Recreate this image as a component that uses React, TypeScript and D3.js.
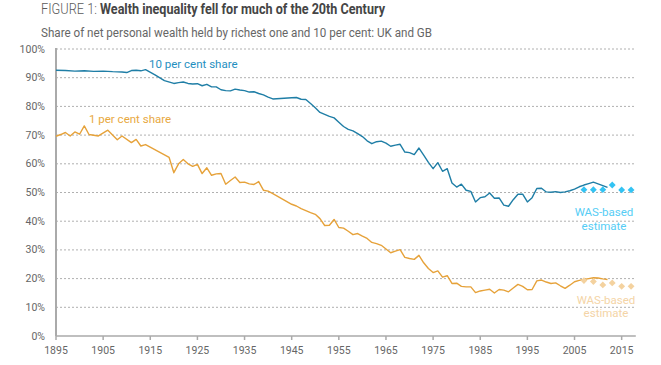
import React from 'react';
import * as d3 from 'd3';

// 10 per cent share (UK / GB)
const topTenYears = [1895, 1897, 1899, 1901, 1903, 1905, 1907, 1909, 1910, 1911, 1912, 1913, 1914, 1916, 1918, 1920,
  1921, 1922, 1923, 1924, 1925, 1926, 1927, 1928, 1929, 1930, 1931, 1932, 1933, 1934, 1935, 1936, 1937, 1938, 1939,
  1940, 1941, 1945, 1946, 1947, 1948, 1949, 1950, 1951, 1952, 1953, 1954, 1955, 1956, 1957, 1958, 1959, 1960, 1961,
  1962, 1963, 1964, 1965, 1966, 1967, 1968, 1969, 1970, 1971, 1972, 1973, 1974, 1975, 1976, 1977, 1978, 1979, 1980,
  1981, 1982, 1983, 1984, 1985, 1986, 1987, 1988, 1989, 1990, 1991, 1992, 1993, 1994, 1995, 1996, 1997, 1998, 1999,
  2000, 2001, 2002, 2003, 2004, 2005, 2006, 2007, 2008, 2009, 2010, 2011, 2012];
const topTenShare = [92.6, 92.5, 92.3, 92.4, 92.2, 92.3, 92.1, 92.0, 91.8, 92.5, 92.6, 92.4, 92.8, 91.0, 89.0, 88.0,
  88.3, 88.5, 88.0, 87.8, 87.9, 87.2, 87.7, 86.8, 86.8, 85.8, 85.5, 85.4, 86.0, 85.7, 85.5, 85.0, 85.1, 84.5, 84.0,
  83.2, 82.6, 83.0, 83.1, 82.5, 82.4, 81.0, 79.5, 77.9, 77.2, 76.5, 76.0, 74.5, 73.0, 72.0, 71.5, 70.5, 69.5, 68.0,
  67.0, 67.7, 67.9, 67.2, 66.1, 66.5, 66.8, 64.1, 63.9, 63.2, 65.5, 63.0, 60.5, 58.3, 60.4, 57.4, 58.3, 53.3, 51.9,
  52.9, 50.8, 50.4, 46.7, 48.2, 48.5, 49.8, 48.0, 48.1, 45.6, 45.2, 47.5, 49.4, 49.4, 46.7, 48.2, 51.4, 51.5, 50.2,
  50.1, 50.3, 50.0, 50.2, 50.6, 51.2, 52.0, 52.6, 53.1, 53.6, 53.0, 52.4, 51.8];

// 1 per cent share
const topOneYears = [1895, 1896, 1897, 1898, 1899, 1900, 1901, 1902, 1904, 1906, 1908, 1909, 1911, 1912, 1913, 1914,
  1919, 1920, 1921, 1922, 1923, 1924, 1925, 1926, 1927, 1928, 1929, 1930, 1931, 1932, 1933, 1934, 1935, 1936, 1937,
  1938, 1939, 1940, 1941, 1945, 1946, 1947, 1948, 1949, 1950, 1951, 1952, 1953, 1954, 1955, 1956, 1957, 1958, 1959,
  1960, 1961, 1962, 1963, 1964, 1965, 1966, 1967, 1968, 1969, 1970, 1971, 1972, 1973, 1974, 1975, 1976, 1977, 1978,
  1979, 1980, 1981, 1982, 1983, 1984, 1985, 1986, 1987, 1988, 1989, 1990, 1991, 1992, 1993, 1994, 1995, 1996, 1997,
  1998, 1999, 2000, 2001, 2002, 2003, 2004, 2005, 2006, 2007, 2008, 2009, 2010, 2011, 2012];
const topOneShare = [69.6, 70.2, 70.9, 69.7, 71.1, 70.3, 73.2, 70.2, 69.7, 71.7, 68.4, 69.7, 67.4, 68.5, 66.2, 66.7,
  62.2, 56.9, 60.0, 61.5, 60.0, 59.1, 59.8, 56.6, 58.6, 56.0, 56.5, 56.6, 52.9, 54.2, 55.4, 53.5, 53.6, 53.0, 52.8,
  53.8, 50.8, 50.5, 49.6, 45.9, 45.3, 44.4, 43.7, 43.0, 42.4, 40.9, 38.5, 38.6, 40.6, 37.8, 37.6, 36.5, 35.3, 35.7,
  34.8, 34.0, 32.6, 32.2, 31.6, 30.3, 29.0, 29.6, 30.1, 27.4, 27.0, 26.7, 28.1, 25.5, 23.5, 22.1, 22.7, 20.5, 21.0,
  18.3, 18.4, 17.3, 17.1, 17.1, 15.1, 15.7, 16.0, 16.3, 15.0, 16.2, 16.0, 15.4, 16.7, 18.0, 17.3, 16.1, 16.2, 19.2,
  19.5, 18.8, 18.3, 18.5, 17.5, 16.6, 17.7, 18.9, 19.4, 19.7, 20.0, 20.3, 20.2, 19.9, 19.7];

// WAS-based estimates
const wasYears = [2007, 2009, 2011, 2013, 2015, 2017];
const wasTopTen = [51.0, 51.0, 51.0, 52.6, 50.9, 50.9];
const wasTopOne = [19.3, 19.0, 17.8, 18.5, 17.3, 17.3];

const xTicks = [1895, 1905, 1915, 1925, 1935, 1945, 1955, 1965, 1975, 1985, 1995, 2005, 2015];
const yTicks = [0, 10, 20, 30, 40, 50, 60, 70, 80, 90, 100];

const W = 661;
const H = 365;
const left = 56;
const right = 635.8;
const top = 49;
const bottom = 336;

const font = 'Roboto, "Noto Sans", sans-serif';

export default function App() {
  const x = d3.scaleLinear().domain([1895, 2018]).range([left, right]);
  const y = d3.scaleLinear().domain([0, 100]).range([bottom, top]);

  const line = d3.line<[number, number]>()
    .x(d => x(d[0]))
    .y(d => y(d[1]));

  const tenPts = topTenYears.map((yr, i) => [yr, topTenShare[i]] as [number, number]);
  const onePts = topOneYears.map((yr, i) => [yr, topOneShare[i]] as [number, number]);
  const diamond = d3.symbol().type(d3.symbolDiamond2).size(30)();

  return (
    <svg width={W} height={H} style={{ position: 'absolute', left: 0, top: 0, background: '#fff' }}
      fontFamily={font}>
      {/* title */}
      <text x={41} y={13.5} fontSize={14.5} fill="#5a5a5a" fontWeight={300}
        textLength={56} lengthAdjust="spacingAndGlyphs">FIGURE 1:</text>
      <text x={100} y={13.5} fontSize={14.5} fill="#454545" fontWeight={700}
        textLength={285} lengthAdjust="spacingAndGlyphs">Wealth inequality fell for much of the 20th Century</text>
      <text x={41} y={37} fontSize={12} fill="#666"
        textLength={391} lengthAdjust="spacingAndGlyphs">Share of net personal wealth held by richest one and 10 per cent: UK and GB</text>

      {/* grid */}
      {yTicks.filter(t => t > 0).map(t => (
        <line key={t} x1={left} x2={right} y1={y(t)} y2={y(t)}
          stroke="#b0b0b0" strokeWidth={1} strokeDasharray="2,2" />
      ))}
      {yTicks.map(t => (
        <text key={'yl' + t} x={45} y={y(t) + 3.5} fontSize={10.5} fill="#666" textAnchor="end">{t}%</text>
      ))}

      {/* axes */}
      <line x1={left} x2={right} y1={bottom} y2={bottom} stroke="#aaa" strokeWidth={1.5} />
      <line x1={left} x2={left} y1={top - 1} y2={bottom} stroke="#aaa" strokeWidth={2} />
      {xTicks.map(t => (
        <g key={'xt' + t}>
          <line x1={x(t)} x2={x(t)} y1={bottom} y2={bottom + 4} stroke="#aaa" strokeWidth={1.5} />
          <text x={x(t)} y={353.5} fontSize={10.5} fill="#666" textAnchor="middle">{t}</text>
        </g>
      ))}

      {/* series */}
      <path d={line(tenPts) ?? ''} fill="none" stroke="#1f7ea6" strokeWidth={1.4} strokeLinejoin="round" />
      <path d={line(onePts) ?? ''} fill="none" stroke="#e6a23a" strokeWidth={1.4} strokeLinejoin="round" />

      {wasYears.map((yr, i) => (
        <path key={'d10' + yr} d={diamond ?? ''} transform={`translate(${x(yr)},${y(wasTopTen[i])})`} fill="#33c3f3" />
      ))}
      {wasYears.map((yr, i) => (
        <path key={'d1' + yr} d={diamond ?? ''} transform={`translate(${x(yr)},${y(wasTopOne[i])})`} fill="#f4d29f" />
      ))}

      {/* labels */}
      <text x={149} y={67.5} fontSize={11.5} fill="#1f8fbf">10 per cent share</text>
      <text x={89} y={122.5} fontSize={11.5} fill="#e8a93f">1 per cent share</text>
      <text x={604} y={216} fontSize={11.5} fill="#56cdf5" textAnchor="middle">WAS-based</text>
      <text x={604} y={229.5} fontSize={11.5} fill="#56cdf5" textAnchor="middle">estimate</text>
      <text x={606} y={303.5} fontSize={11.5} fill="#f4d4a6" textAnchor="middle">WAS-based</text>
      <text x={606} y={317} fontSize={11.5} fill="#f4d4a6" textAnchor="middle">estimate</text>
    </svg>
  );
}
